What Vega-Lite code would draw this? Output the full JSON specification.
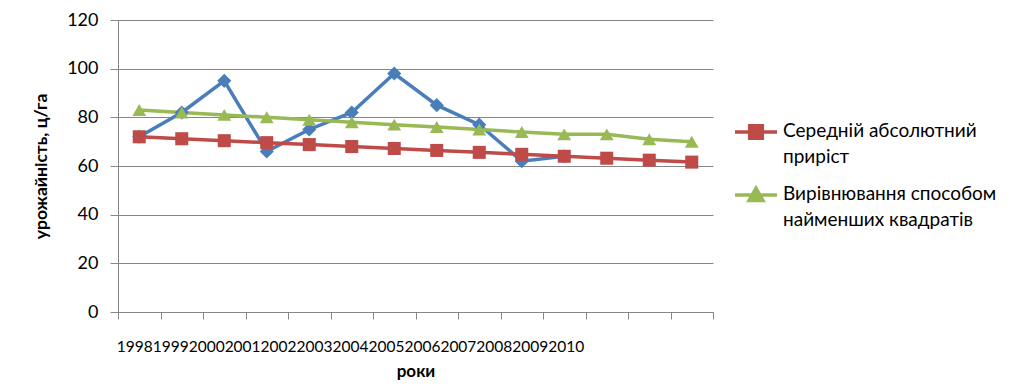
{
  "$schema": "https://vega.github.io/schema/vega-lite/v6.json",
  "width": 595,
  "height": 292,
  "autosize": {"type": "none"},
  "padding": {"left": 118, "top": 20, "right": 299, "bottom": 72},
  "background": "white",
  "config": {
    "font": "Lato",
    "view": {"stroke": null},
    "axis": {"labelFont": "Lato", "titleFont": "Lato", "labelColor": "black", "titleColor": "black"}
  },
  "data": {
    "values": [
      {"рік": "1998", "ряд": "Фактична урожайність", "значення": 72},
      {"рік": "1999", "ряд": "Фактична урожайність", "значення": 82},
      {"рік": "2000", "ряд": "Фактична урожайність", "значення": 95},
      {"рік": "2001", "ряд": "Фактична урожайність", "значення": 66},
      {"рік": "2002", "ряд": "Фактична урожайність", "значення": 75},
      {"рік": "2003", "ряд": "Фактична урожайність", "значення": 82},
      {"рік": "2004", "ряд": "Фактична урожайність", "значення": 98},
      {"рік": "2005", "ряд": "Фактична урожайність", "значення": 85},
      {"рік": "2006", "ряд": "Фактична урожайність", "значення": 77},
      {"рік": "2007", "ряд": "Фактична урожайність", "значення": 62},
      {"рік": "2008", "ряд": "Фактична урожайність", "значення": 64},
      {"рік": "1998", "ряд": "Середній абсолютний приріст", "значення": 72},
      {"рік": "1999", "ряд": "Середній абсолютний приріст", "значення": 71.2},
      {"рік": "2000", "ряд": "Середній абсолютний приріст", "значення": 70.4},
      {"рік": "2001", "ряд": "Середній абсолютний приріст", "значення": 69.6},
      {"рік": "2002", "ряд": "Середній абсолютний приріст", "значення": 68.8},
      {"рік": "2003", "ряд": "Середній абсолютний приріст", "значення": 68},
      {"рік": "2004", "ряд": "Середній абсолютний приріст", "значення": 67.2},
      {"рік": "2005", "ряд": "Середній абсолютний приріст", "значення": 66.4},
      {"рік": "2006", "ряд": "Середній абсолютний приріст", "значення": 65.6},
      {"рік": "2007", "ряд": "Середній абсолютний приріст", "значення": 64.8},
      {"рік": "2008", "ряд": "Середній абсолютний приріст", "значення": 64},
      {"рік": "2009", "ряд": "Середній абсолютний приріст", "значення": 63.2},
      {"рік": "2010", "ряд": "Середній абсолютний приріст", "значення": 62.4},
      {"рік": "", "ряд": "Середній абсолютний приріст", "значення": 61.6},
      {"рік": "1998", "ряд": "Вирівнювання способом найменших квадратів", "значення": 83},
      {"рік": "1999", "ряд": "Вирівнювання способом найменших квадратів", "значення": 82},
      {"рік": "2000", "ряд": "Вирівнювання способом найменших квадратів", "значення": 81},
      {"рік": "2001", "ряд": "Вирівнювання способом найменших квадратів", "значення": 80},
      {"рік": "2002", "ряд": "Вирівнювання способом найменших квадратів", "значення": 79},
      {"рік": "2003", "ряд": "Вирівнювання способом найменших квадратів", "значення": 78},
      {"рік": "2004", "ряд": "Вирівнювання способом найменших квадратів", "значення": 77},
      {"рік": "2005", "ряд": "Вирівнювання способом найменших квадратів", "значення": 76},
      {"рік": "2006", "ряд": "Вирівнювання способом найменших квадратів", "значення": 75},
      {"рік": "2007", "ряд": "Вирівнювання способом найменших квадратів", "значення": 74},
      {"рік": "2008", "ряд": "Вирівнювання способом найменших квадратів", "значення": 73},
      {"рік": "2009", "ряд": "Вирівнювання способом найменших квадратів", "значення": 73},
      {"рік": "2010", "ряд": "Вирівнювання способом найменших квадратів", "значення": 71},
      {"рік": "", "ряд": "Вирівнювання способом найменших квадратів", "значення": 70}
    ]
  },
  "encoding": {
    "x": {
      "field": "рік",
      "type": "ordinal",
      "sort": null,
      "bandPosition": 0.5,
      "scale": {"type": "band", "paddingInner": 0, "paddingOuter": 0},
      "axis": {
        "title": "роки",
        "titleFontSize": 17,
        "titleFontWeight": "bold",
        "titlePadding": 9,
        "labelAngle": 0,
        "labelExpr": "datum.value === '1998' ? '1998199920002001200220032004200520062007200820092010' : ''",
        "labelAlign": "left",
        "labelOffset": -23,
        "labelFontSize": 15.5,
        "labelPadding": 20,
        "labelLimit": 0,
        "labelOverlap": false,
        "tickBand": "extent",
        "tickSize": 7,
        "tickColor": "#868686",
        "domainColor": "#868686",
        "grid": false
      }
    },
    "y": {
      "field": "значення",
      "type": "quantitative",
      "scale": {"domain": [0, 120]},
      "axis": {
        "title": "урожайність, ц/га",
        "titleFontSize": 17.5,
        "titleFontWeight": "bold",
        "titlePadding": 16,
        "values": [0, 20, 40, 60, 80, 100, 120],
        "labelFontSize": 18,
        "labelPadding": 12,
        "tickSize": 8,
        "tickColor": "#868686",
        "domainColor": "#868686",
        "gridColor": "#868686",
        "gridOpacity": 1
      }
    },
    "color": {
      "field": "ряд",
      "type": "nominal",
      "scale": {
        "domain": ["Фактична урожайність", "Середній абсолютний приріст", "Вирівнювання способом найменших квадратів"],
        "range": ["#4A7EBB", "#BE4B48", "#98B954"]
      },
      "legend": {
        "orient": "none",
        "legendX": 615,
        "legendY": 89,
        "title": null,
        "padding": 0,
        "values": ["Середній абсолютний приріст", "Вирівнювання способом найменших квадратів"],
        "symbolType": "M-1,0H1",
        "symbolSize": 1764,
        "symbolStrokeWidth": 3.5,
        "labelFontSize": 19,
        "labelOffset": 4,
        "labelLimit": 400,
        "rowPadding": 5,
        "labelExpr": "datum.label === 'Середній абсолютний приріст' ? ['Середній абсолютний', 'приріст'] : ['Вирівнювання способом', 'найменших квадратів']",
        "encode": {
          "symbols": {
            "update": {
              "shape": {"signal": "datum.value === 'Середній абсолютний приріст' ? 'M-1,0H1M-0.3,-0.3H0.3V0.3H-0.3Z' : 'M-1,0H1M0,-0.32L0.33,0.26H-0.33Z'"},
              "fill": {"signal": "datum.value === 'Середній абсолютний приріст' ? '#BE4B48' : '#98B954'"},
              "stroke": {"signal": "datum.value === 'Середній абсолютний приріст' ? '#BE4B48' : '#98B954'"},
              "fillOpacity": {"value": 1},
              "strokeWidth": {"value": 3.5}
            }
          },
          "labels": {
            "update": {
              "lineHeight": {"value": 26},
              "baseline": {"value": "top"},
              "dy": {"value": -10}
            }
          }
        }
      }
    }
  },
  "layer": [
    {
      "mark": {"type": "line", "strokeWidth": 3.5},
      "encoding": {}
    },
    {
      "transform": [{"filter": "datum['ряд'] === 'Фактична урожайність'"}],
      "mark": {"type": "point", "filled": true, "opacity": 1, "size": 200, "shape": "diamond"},
      "encoding": {}
    },
    {
      "transform": [{"filter": "datum['ряд'] === 'Середній абсолютний приріст'"}],
      "mark": {"type": "point", "filled": true, "opacity": 1, "size": 170, "shape": "square"},
      "encoding": {}
    },
    {
      "transform": [{"filter": "datum['ряд'] === 'Вирівнювання способом найменших квадратів'"}],
      "mark": {"type": "point", "filled": true, "opacity": 1, "size": 190, "shape": "triangle-up"},
      "encoding": {}
    }
  ]
}
